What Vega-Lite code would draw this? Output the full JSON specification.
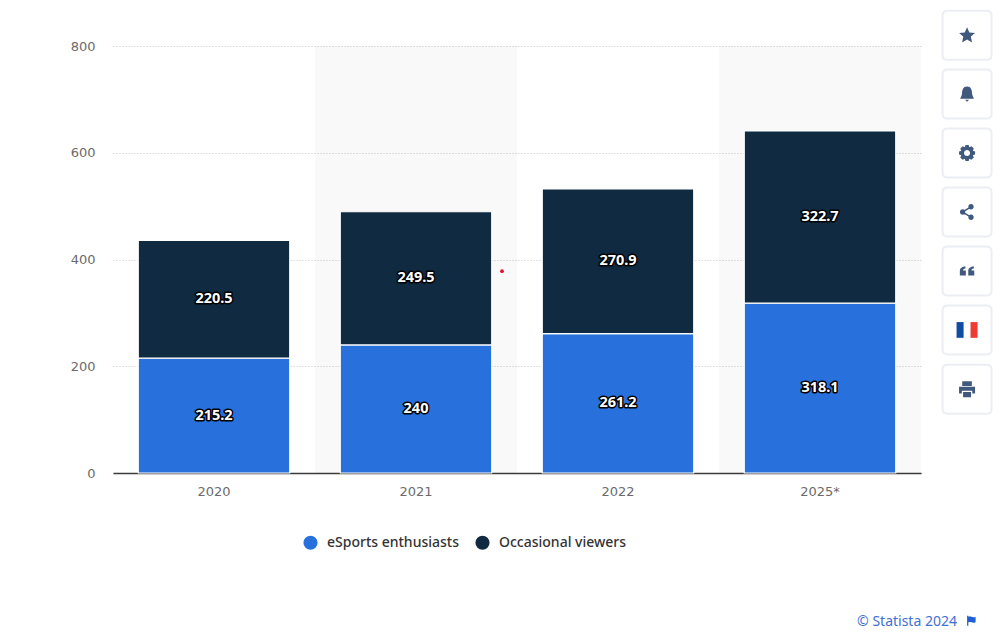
{
"$schema":"https://vega.github.io/schema/vega-lite/v6.json",
"width":808,"height":427,
"autosize":{"type":"none"},
"padding":{"left":113,"top":46,"right":83,"bottom":164},
"background":"white",
"config":{"view":{"stroke":null},"font":"DejaVu Sans"},
"resolve":{"scale":{"x":"independent"},"axis":{"x":"independent"}},
"layer":[
{"data":{"values":[{"from":1,"to":2},{"from":3,"to":4}]},
 "mark":{"type":"rect","color":"#000000","opacity":0.024},
 "encoding":{
  "x":{"field":"from","type":"quantitative","scale":{"domain":[0,4],"nice":false,"zero":false},"axis":null},
  "x2":{"field":"to"},
  "y":{"datum":0,"type":"quantitative","scale":{"domain":[0,800],"nice":false},
   "axis":{"values":[0,200,400,600,800],"title":"Viewers in millions","titleFontSize":12,"titleFontWeight":"normal","titleColor":"#858585","titlePadding":17,"labelFontSize":13,"labelColor":"#6b6b6b","labelPadding":18,"domain":false,"ticks":false,"grid":true,"gridColor":"#c4c4c4","gridDash":[1,2],"gridWidth":1}},
  "y2":{"datum":800}}},
{"data":{"values":[
 {"year":"2020","series":"eSports enthusiasts","rank":1,"value":215.2},
 {"year":"2020","series":"Occasional viewers","rank":2,"value":220.5},
 {"year":"2021","series":"eSports enthusiasts","rank":1,"value":240},
 {"year":"2021","series":"Occasional viewers","rank":2,"value":249.5},
 {"year":"2022","series":"eSports enthusiasts","rank":1,"value":261.2},
 {"year":"2022","series":"Occasional viewers","rank":2,"value":270.9},
 {"year":"2025*","series":"eSports enthusiasts","rank":1,"value":318.1},
 {"year":"2025*","series":"Occasional viewers","rank":2,"value":322.7}]},
 "encoding":{
  "x":{"field":"year","type":"nominal","sort":null,"scale":{"paddingInner":0.25,"paddingOuter":0.125},
   "axis":{"title":null,"labelAngle":0,"labelFontSize":13,"labelColor":"#6b6b6b","labelPadding":12,"ticks":false,"domainColor":"#3a3a3a","domainWidth":1.5,"grid":false}},
  "order":{"field":"rank","type":"ordinal"}},
 "layer":[
  {"mark":{"type":"bar","stroke":"#ffffff","strokeWidth":1.2},
   "encoding":{
    "y":{"field":"value","type":"quantitative","stack":"zero","title":null},
    "color":{"field":"series","type":"nominal","scale":{"domain":["eSports enthusiasts","Occasional viewers"],"range":["#2871dc","#0f2a41"]},
     "legend":{"title":null,"orient":"none","legendX":190,"legendY":489,"direction":"horizontal","symbolType":"circle","symbolSize":200,"symbolStrokeWidth":0,"labelFontSize":14,"labelFontWeight":500,"labelFont":"Noto Sans","labelColor":"#333333","columnPadding":16,"labelOffset":9}}}},
  {"mark":{"type":"text","font":"Noto Sans","fontSize":14.5,"fontWeight":"bold","stroke":"#000000","strokeWidth":3,"strokeJoin":"round","fill":"#000000"},
   "encoding":{"y":{"field":"value","type":"quantitative","stack":"zero","bandPosition":0.5},"text":{"field":"value","type":"quantitative"}}},
  {"mark":{"type":"text","font":"Noto Sans","fontSize":14.5,"fontWeight":"bold","fill":"#ffffff"},
   "encoding":{"y":{"field":"value","type":"quantitative","stack":"zero","bandPosition":0.5},"text":{"field":"value","type":"quantitative"}}}
 ]},
{"data":{"values":[
 {"kind":"star","col":4.228,"level":820},
 {"kind":"bell","col":4.228,"level":710},
 {"kind":"gear","col":4.228,"level":599.5},
 {"kind":"share","col":4.228,"level":489},
 {"kind":"quote","col":4.228,"level":378.5},
 {"kind":"flag","col":4.228,"level":268},
 {"kind":"print","col":4.228,"level":157}]},
 "encoding":{
  "x":{"field":"col","type":"quantitative","scale":{"domain":[0,4],"nice":false,"zero":false},"axis":null},
  "y":{"field":"level","type":"quantitative"}},
 "layer":[
  {"mark":{"type":"point","filled":true,"fill":"#ffffff","stroke":"#eceef3","strokeWidth":2,"opacity":1,"size":2400,"shape":"M-0.8,-1 L0.8,-1 Q1,-1 1,-0.8 L1,0.8 Q1,1 0.8,1 L-0.8,1 Q-1,1 -1,0.8 L-1,-0.8 Q-1,-1 -0.8,-1 Z"}},
  {"transform":[{"filter":"datum.kind != 'flag'"}],
   "mark":{"type":"point","filled":true,"color":"#3f5a7d","opacity":1,"size":256},
   "encoding":{"shape":{"field":"kind","type":"nominal","legend":null,"scale":{
    "domain":["star","bell","gear","share","quote","print"],
    "range":[
     "M0,-1 L0.29,-0.35 1,-0.28 0.47,0.16 0.62,0.9 0,0.52 -0.62,0.9 -0.47,0.16 -1,-0.28 -0.29,-0.35 Z",
     "M0,-0.95 C0.5,-0.95 0.62,-0.5 0.62,-0.1 C0.62,0.25 0.85,0.4 0.85,0.6 L-0.85,0.6 C-0.85,0.4 -0.62,0.25 -0.62,-0.1 C-0.62,-0.5 -0.5,-0.95 0,-0.95 Z M-0.25,0.72 L0.25,0.72 0,0.95 Z",
     "M-0.2,-1 L0.2,-1 0.28,-0.72 0.55,-0.85 0.85,-0.55 0.72,-0.28 1,-0.2 1,0.2 0.72,0.28 0.85,0.55 0.55,0.85 0.28,0.72 0.2,1 -0.2,1 -0.28,0.72 -0.55,0.85 -0.85,0.55 -0.72,0.28 -1,0.2 -1,-0.2 -0.72,-0.28 -0.85,-0.55 -0.55,-0.85 -0.28,-0.72 Z M0,-0.38 A0.38,0.38 0 1 0 0,0.38 A0.38,0.38 0 1 0 0,-0.38 Z",
     "M0.5,-1 A0.34,0.34 0 1 1 0.49,-1 Z M-0.55,-0.34 A0.34,0.34 0 1 1 -0.56,-0.34 Z M0.5,0.32 A0.34,0.34 0 1 1 0.49,0.32 Z M-0.55,-0.12 L0.45,-0.72 0.55,-0.55 -0.45,0.03 Z M-0.45,-0.03 L0.55,0.55 0.45,0.72 -0.55,0.12 Z",
     "M-0.9,0.55 L-0.9,0 C-0.9,-0.35 -0.6,-0.55 -0.2,-0.55 L-0.2,-0.3 C-0.4,-0.3 -0.5,-0.2 -0.5,-0.05 L-0.15,-0.05 L-0.15,0.55 Z M0.15,0.55 L0.15,0 C0.15,-0.35 0.45,-0.55 0.85,-0.55 L0.85,-0.3 C0.65,-0.3 0.55,-0.2 0.55,-0.05 L0.9,-0.05 L0.9,0.55 Z",
     "M-0.6,-1 L0.6,-1 0.6,-0.4 -0.6,-0.4 Z M-1,-0.3 L1,-0.3 1,0.55 0.65,0.55 0.65,0.2 -0.65,0.2 -0.65,0.55 -1,0.55 Z M-0.5,0.35 L0.5,0.35 0.5,1 -0.5,1 Z"
    ]}}}},
  {"transform":[{"filter":"datum.kind == 'flag'"}],
   "mark":{"type":"point","filled":true,"color":"#0f4da3","opacity":1,"size":441,"shape":"M-1,-0.75 L-0.33,-0.75 -0.33,0.75 -1,0.75 Z"}},
  {"transform":[{"filter":"datum.kind == 'flag'"}],
   "mark":{"type":"point","filled":true,"color":"#ee3b33","opacity":1,"size":441,"shape":"M0.33,-0.75 L1,-0.75 1,0.75 0.33,0.75 Z"}}
 ]},
{"data":{"values":[{"col":1.926,"level":378}]},
 "mark":{"type":"point","filled":true,"color":"#e0102f","opacity":1,"size":14},
 "encoding":{
  "x":{"field":"col","type":"quantitative","scale":{"domain":[0,4],"nice":false,"zero":false},"axis":null},
  "y":{"field":"level","type":"quantitative"}}},
{"data":{"values":[{"col":4.178,"level":-279,"note":"© Statista 2024"}]},
 "mark":{"type":"text","align":"right","baseline":"middle","font":"Noto Sans","fontSize":14,"color":"#3f6fd8"},
 "encoding":{
  "x":{"field":"col","type":"quantitative","scale":{"domain":[0,4],"nice":false,"zero":false},"axis":null},
  "y":{"field":"level","type":"quantitative"},
  "text":{"field":"note","type":"nominal"}}},
{"data":{"values":[{"col":4.248,"level":-277}]},
 "mark":{"type":"point","filled":true,"color":"#1f5fd6","opacity":1,"size":100,"shape":"M-0.8,-1 L-0.55,-1 -0.55,-0.8 C0,-1 0.3,-0.5 0.9,-0.8 L0.9,0.3 C0.3,0.6 0,0.1 -0.55,0.3 L-0.55,1 -0.8,1 Z"},
 "encoding":{
  "x":{"field":"col","type":"quantitative","scale":{"domain":[0,4],"nice":false,"zero":false},"axis":null},
  "y":{"field":"level","type":"quantitative"}}}
]}
